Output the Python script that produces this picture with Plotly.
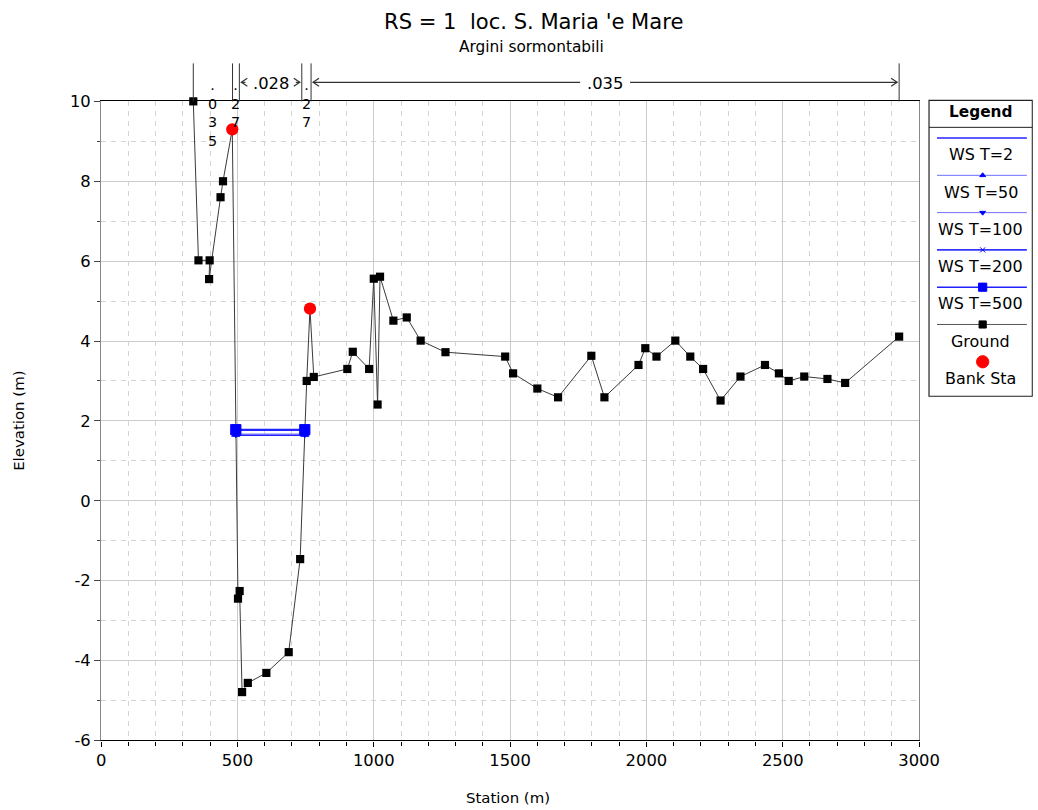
import plotly.graph_objects as go

# ---------------- data ----------------
ground_station = [338, 357, 398, 396, 438, 447, 481, 502, 508, 517, 538, 606, 688, 730, 754, 766, 780,
                  903, 923, 983, 1000, 1014, 1023, 1072, 1121, 1172, 1263, 1482, 1511, 1600, 1676,
                  1798, 1846, 1971, 1996, 2037, 2106, 2161, 2208, 2272, 2345, 2435, 2486, 2522,
                  2579, 2664, 2729, 2927]
ground_elev = [10.0, 6.02, 6.02, 5.55, 7.6, 8.0, 9.3, -2.45, -2.26, -4.79, -4.56, -4.31, -3.79, -1.46,
               3.0, 4.81, 3.1, 3.30, 3.73, 3.30, 5.56, 2.41, 5.61, 4.51, 4.59, 4.01, 3.72, 3.61,
               3.19, 2.81, 2.59, 3.63, 2.59, 3.40, 3.82, 3.61, 4.01, 3.61, 3.30, 2.51, 3.11, 3.40,
               3.19, 3.00, 3.11, 3.05, 2.95, 4.11]

bank_station = [481, 766]
bank_elev = [9.3, 4.81]

ws_names = ["WS T=2", "WS T=50", "WS T=100", "WS T=200", "WS T=500"]
ws_station = [494, 747]
ws_elev = [1.65, 1.66, 1.67, 1.77, 1.78]

n_break_station = [338, 482, 507, 736, 770, 2927]
n_values = [".035", ".027", ".028", ".027", ".035"]

x_tickvals = [0, 500, 1000, 1500, 2000, 2500, 3000]
x_ticktext = ["0", "500", "1000", "1500", "2000", "2500", "3000"]
y_tickvals = [-6, -4, -2, 0, 2, 4, 6, 8, 10]
y_ticktext = ["-6", "-4", "-2", "0", "2", "4", "6", "8", "10"]

title_text = "RS = 1  loc. S. Maria 'e Mare"
subtitle_text = "Argini sormontabili"

# ---------------- styles / layout helpers ----------------
# observed capture transform: shown = OFF + SCALE * figure_pixel
SCALE = 0.977
OX, OY = 4.4, 7.6
FW, FH = 1054, 813
PX_L, PX_R = 100.7, 920.0      # target pixel extent of the plot area
PY_T, PY_B = 100.0, 739.3
FONT = "DejaVu Sans"


def fs(size):
    return size / SCALE


def pxp(t):
    return min(1.0, max(0.0, ((t - OX) / SCALE) / FW))


def pyp(t):
    return 1 - ((t - OY) / SCALE) / FH


def st_per_px():
    return 3000.0 / (PX_R - PX_L)


ws_styles = [
    dict(color="#2525ff", width=2.0, symbol=None, msize=0),
    dict(color="#6f6fff", width=1.0, symbol="triangle-up", msize=7),
    dict(color="#6f6fff", width=1.0, symbol="triangle-down", msize=7),
    dict(color="#3535ff", width=1.6, symbol="x-thin-open", msize=7),
    dict(color="#2020ff", width=2.0, symbol="square", msize=10),
]

fig = go.Figure()

fig.add_trace(go.Scatter(
    x=ground_station, y=ground_elev, mode="lines+markers",
    line=dict(color="#3a3a3a", width=1),
    marker=dict(symbol="square", size=fs(8), color="black"),
    cliponaxis=False, showlegend=False, hoverinfo="skip"))

for name, elev, sty in zip(ws_names, ws_elev, ws_styles):
    mk = dict(size=fs(sty["msize"]), color="#0000ff", symbol=sty["symbol"] or "circle",
              line=dict(color="#0000ff", width=1))
    fig.add_trace(go.Scatter(
        x=ws_station, y=[elev] * len(ws_station),
        mode="lines+markers" if sty["symbol"] else "lines",
        line=dict(color=sty["color"], width=sty["width"]),
        marker=mk, showlegend=False, hoverinfo="skip", name=name))

fig.add_trace(go.Scatter(
    x=bank_station, y=bank_elev, mode="markers",
    marker=dict(symbol="circle", size=fs(12), color="#ff0000"),
    showlegend=False, hoverinfo="skip"))

shapes = []
annotations = []

# ---------------- Manning's n band above the plot ----------------
Y_TOP_LINE = 62
Y_ARROW = 81
line_col = "#333333"
for s in n_break_station:
    shapes.append(dict(type="line", xref="x", yref="paper", x0=s, x1=s,
                       y0=pyp(Y_TOP_LINE), y1=pyp(PY_T), line=dict(color=line_col, width=1)))

spp = st_per_px()


def chevron(tip_st, direction):
    arm = -direction * 6 * spp
    return dict(type="path", xref="x", yref="paper",
                path=f"M {tip_st + arm},{pyp(Y_ARROW - 4)} L {tip_st},{pyp(Y_ARROW)} L {tip_st + arm},{pyp(Y_ARROW + 4)}",
                line=dict(color=line_col, width=1.2))


for i, nv in enumerate(n_values):
    a, b = n_break_station[i], n_break_station[i + 1]
    width_px = (b - a) / spp
    mid = (a + b) / 2
    if width_px < 50:
        if width_px < 20:
            chars = "<br>".join(["."] + list(nv[2:]))
        else:
            chars = "<br>".join(list(nv))
        annotations.append(dict(text=chars, x=mid, y=pyp(74), xref="x", yref="paper",
                                xanchor="center", yanchor="top", showarrow=False,
                                font=dict(family=FONT, size=fs(14), color="black")))
    else:
        annotations.append(dict(text=nv, x=mid, y=pyp(Y_ARROW + 1), xref="x", yref="paper",
                                xanchor="center", yanchor="middle", showarrow=False,
                                font=dict(family=FONT, size=fs(16), color="black")))
        half_txt = 21 * spp
        left_tip = a + 2 * spp
        right_tip = b - 2 * spp
        if width_px > 120:
            shapes.append(dict(type="line", xref="x", yref="paper", x0=left_tip, x1=mid - half_txt - 4 * spp,
                               y0=pyp(Y_ARROW), y1=pyp(Y_ARROW), line=dict(color=line_col, width=1.2)))
            shapes.append(dict(type="line", xref="x", yref="paper", x0=mid + half_txt + 4 * spp, x1=right_tip,
                               y0=pyp(Y_ARROW), y1=pyp(Y_ARROW), line=dict(color=line_col, width=1.2)))
        else:
            shapes.append(dict(type="line", xref="x", yref="paper", x0=left_tip, x1=left_tip + 4 * spp,
                               y0=pyp(Y_ARROW), y1=pyp(Y_ARROW), line=dict(color=line_col, width=1.2)))
            shapes.append(dict(type="line", xref="x", yref="paper", x0=right_tip - 4 * spp, x1=right_tip,
                               y0=pyp(Y_ARROW), y1=pyp(Y_ARROW), line=dict(color=line_col, width=1.2)))
        shapes.append(chevron(left_tip, -1))
        shapes.append(chevron(right_tip, +1))

# ---------------- titles ----------------
annotations.append(dict(text=title_text, x=pxp(534), y=pyp(20), xref="paper", yref="paper",
                        xanchor="center", yanchor="middle", showarrow=False,
                        font=dict(family=FONT, size=fs(20.6), color="black")))
annotations.append(dict(text=subtitle_text, x=pxp(532), y=pyp(46), xref="paper", yref="paper",
                        xanchor="center", yanchor="middle", showarrow=False,
                        font=dict(family=FONT, size=fs(15), color="black")))
annotations.append(dict(text="Station (m)", x=pxp(508), y=pyp(797), xref="paper", yref="paper",
                        xanchor="center", yanchor="middle", showarrow=False,
                        font=dict(family=FONT, size=fs(14.6), color="black")))
annotations.append(dict(text="Elevation (m)", x=pxp(19), y=pyp(420), xref="paper", yref="paper",
                        xanchor="center", yanchor="middle", showarrow=False, textangle=-90,
                        font=dict(family=FONT, size=fs(14.6), color="black")))

# ---------------- custom legend (target-pixel axes x2/y2) ----------------
LG_L, LG_R, LG_T, LG_B = 930, 1033.5, 99, 395
LG_MID = (LG_L + LG_R) / 2
ROW0, ROW_STEP, LABEL_OFF = 136.7, 37.3, 16.7
shapes.append(dict(type="rect", xref="x2", yref="y2", x0=LG_L, x1=LG_R, y0=LG_T, y1=LG_B,
                   line=dict(color="#222222", width=1.2), fillcolor="rgba(0,0,0,0)"))
shapes.append(dict(type="line", xref="x2", yref="y2", x0=LG_L, x1=LG_R, y0=126, y1=126,
                   line=dict(color="#222222", width=1)))
annotations.append(dict(text="<b>Legend</b>", x=LG_MID, y=111, xref="x2", yref="y2",
                        xanchor="center", yanchor="middle", showarrow=False,
                        font=dict(family=FONT, size=fs(15), color="black")))

legend_entries = []
for name, sty in zip(ws_names, ws_styles):
    legend_entries.append(dict(name=name, lcolor=sty["color"], lwidth=min(sty["width"], 1.6),
                               symbol=sty["symbol"], msize=sty["msize"] - 2 if sty["msize"] else 0,
                               mcolor="#0000ff"))
legend_entries.append(dict(name="Ground", lcolor="#555555", lwidth=1, symbol="square", msize=7,
                           mcolor="black"))
legend_entries.append(dict(name="Bank Sta", lcolor=None, lwidth=0, symbol="circle", msize=12,
                           mcolor="#ff0000"))

for i, e in enumerate(legend_entries):
    yrow = ROW0 + ROW_STEP * i
    if e["lcolor"]:
        fig.add_trace(go.Scatter(x=[938, 1028], y=[yrow, yrow], mode="lines",
                                 line=dict(color=e["lcolor"], width=e["lwidth"]),
                                 xaxis="x2", yaxis="y2", showlegend=False, hoverinfo="skip"))
    if e["symbol"]:
        fig.add_trace(go.Scatter(x=[LG_MID + 2], y=[yrow], mode="markers",
                                 marker=dict(symbol=e["symbol"], size=fs(e["msize"]), color=e["mcolor"],
                                             line=dict(color=e["mcolor"], width=1)),
                                 xaxis="x2", yaxis="y2", showlegend=False, hoverinfo="skip"))
    annotations.append(dict(text=e["name"], x=LG_MID, y=yrow + LABEL_OFF, xref="x2", yref="y2",
                            xanchor="center", yanchor="middle", showarrow=False,
                            font=dict(family=FONT, size=fs(15.6), color="black")))

fig.update_layout(
    width=FW, height=FH, autosize=False,
    margin=dict(l=0, r=0, t=0, b=0, pad=0),
    paper_bgcolor="white", plot_bgcolor="white",
    showlegend=False,
    font=dict(family=FONT, size=fs(16), color="black"),
    xaxis=dict(domain=[pxp(PX_L), pxp(PX_R)], range=[0, 3000], autorange=False,
               tickmode="array", tickvals=x_tickvals, ticktext=x_ticktext,
               ticks="outside", ticklen=5, tickcolor="black", tickwidth=1,
               showline=True, linecolor="black", linewidth=1.2, mirror=True,
               showgrid=True, gridcolor="#cccccc", gridwidth=1, zeroline=False,
               tickfont=dict(family=FONT, size=fs(16), color="black"),
               minor=dict(tickmode="linear", tick0=0, dtick=100, ticks="outside", ticklen=4,
                          tickcolor="black", showgrid=True, gridcolor="#d4d4d4",
                          griddash="5px,5px", gridwidth=1),
               anchor="y"),
    yaxis=dict(domain=[pyp(PY_B), pyp(PY_T)], range=[-6, 10], autorange=False,
               tickmode="array", tickvals=y_tickvals, ticktext=y_ticktext,
               ticks="outside", ticklen=6, tickcolor="#444444", tickwidth=1,
               showline=True, linecolor="#888888", linewidth=1.2, mirror=True,
               showgrid=True, gridcolor="#cccccc", gridwidth=1, zeroline=False,
               tickfont=dict(family=FONT, size=fs(16), color="black"),
               minor=dict(tickmode="linear", tick0=0, dtick=1, ticks="outside", ticklen=3,
                          tickcolor="#444444", showgrid=True, gridcolor="#d4d4d4",
                          griddash="5px,5px", gridwidth=1),
               anchor="x"),
    xaxis2=dict(domain=[pxp(928), pxp(1034)], range=[928, 1034], autorange=False,
                visible=False, anchor="y2", fixedrange=True),
    yaxis2=dict(domain=[pyp(397), pyp(97)], range=[397, 97], autorange=False,
                visible=False, anchor="x2", fixedrange=True),
    shapes=shapes,
    annotations=annotations,
)

fig.write_html("out.html")
